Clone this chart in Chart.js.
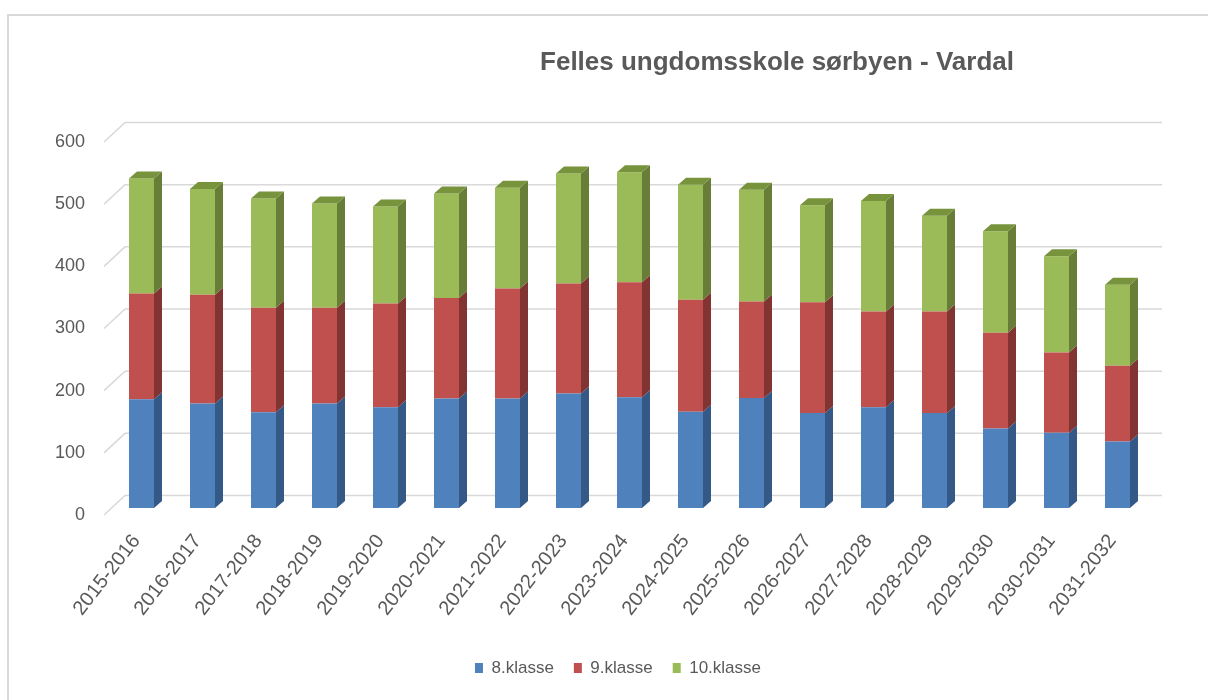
<!DOCTYPE html>
<html>
<head>
<meta charset="utf-8">
<script src="https://cdn.jsdelivr.net/npm/chart.js@4/dist/chart.umd.min.js"></script>
<style>
  html, body { margin: 0; padding: 0; background: #fff; }
</style>
</head>
<body>
<canvas id="chart" width="1208" height="700"></canvas>
<script>
const chartTitle = 'Felles ungdomsskole sørbyen - Vardal';
const categories = ['2015-2016', '2016-2017', '2017-2018', '2018-2019', '2019-2020', '2020-2021',
    '2021-2022', '2022-2023', '2023-2024', '2024-2025', '2025-2026', '2026-2027', '2027-2028',
    '2028-2029', '2029-2030', '2030-2031', '2031-2032'];
const klasse8 = [175, 168, 154, 168, 162, 176, 176, 184, 178, 155, 177, 153, 162, 153, 128, 121, 107];
const klasse9 = [170, 175, 168, 154, 167, 162, 177, 177, 185, 180, 155, 178, 154, 163, 154, 129, 122];
const klasse10 = [185, 170, 176, 168, 156, 168, 162, 177, 177, 185, 180, 156, 178, 154, 163, 155, 130];
const yTicks = [0, 100, 200, 300, 400, 500, 600];

const textColor = '#595959';
const gridColor = '#d9d9d9';
const DX = 8, DY = 7; // bar depth

// gridlines on back wall + side wall, frame, title
const backdrop = {
    id: 'backdrop',
    afterLayout(chart) {
        // legend sits a bit right of the canvas centre in the original
        chart.legend.left += 88;
    },
    beforeDraw(chart) {
        const c = chart.ctx;
        c.save();
        c.fillStyle = '#fff';
        c.fillRect(0, 0, chart.width, chart.height);
        c.strokeStyle = gridColor;
        c.lineWidth = 2;
        c.strokeRect(8, 15, chart.width + 20, chart.height + 20);
        c.restore();
    },
    beforeDatasetsDraw(chart) {
        const c = chart.ctx;
        const y = chart.scales.y;
        c.save();
        c.strokeStyle = gridColor;
        c.lineWidth = 1.5;
        yTicks.forEach(v => {
            const py = y.getPixelForValue(v);
            c.beginPath();
            c.moveTo(104, py + 7);
            c.lineTo(125, py - 12.5);
            c.lineTo(1162, py - 12.5);
            c.stroke();
        });
        c.restore();
    },
    afterDatasetsDraw(chart) {
        const c = chart.ctx;
        c.save();
        chart.data.datasets.forEach((ds, i) => {
            const meta = chart.getDatasetMeta(i);
            const last = i === chart.data.datasets.length - 1;
            meta.data.forEach(bar => {
                const p = bar.getProps(['x', 'y', 'base', 'width'], true);
                const xr = p.x + p.width / 2, xl = p.x - p.width / 2;
                c.fillStyle = ds.sideColor;
                c.beginPath();
                c.moveTo(xr, p.base);
                c.lineTo(xr + DX, p.base - DY);
                c.lineTo(xr + DX, p.y - DY);
                c.lineTo(xr, p.y);
                c.closePath();
                c.fill();
                if (last) {
                    c.fillStyle = ds.topColor;
                    c.beginPath();
                    c.moveTo(xl, p.y);
                    c.lineTo(xl + DX, p.y - DY);
                    c.lineTo(xr + DX, p.y - DY);
                    c.lineTo(xr, p.y);
                    c.closePath();
                    c.fill();
                }
            });
        });
        c.restore();
    },
    afterDraw(chart) {
        const c = chart.ctx;
        c.save();
        c.fillStyle = textColor;
        c.font = 'bold 26px "Liberation Sans", Arial, sans-serif';
        c.textAlign = 'center';
        c.textBaseline = 'middle';
        c.fillText(chartTitle, 777, 63);
        c.restore();
    }
};

new Chart(document.getElementById('chart'), {
    type: 'bar',
    data: {
        labels: categories,
        datasets: [
            { label: '8.klasse', data: klasse8, backgroundColor: '#4f81bd', sideColor: '#355986' },
            { label: '9.klasse', data: klasse9, backgroundColor: '#c0504d', sideColor: '#813432' },
            { label: '10.klasse', data: klasse10, backgroundColor: '#9bbb59', sideColor: '#677d38', topColor: '#77933c' }
        ]
    },
    options: {
        responsive: false,
        devicePixelRatio: 1,
        animation: false,
        layout: { padding: { top: 135, left: 0, right: 60, bottom: 13.5 } },
        datasets: { bar: { categoryPercentage: 1, barPercentage: 0.41, borderWidth: 0 } },
        plugins: {
            title: { display: false },
            tooltip: { enabled: false },
            legend: {
                position: 'bottom',
                labels: {
                    color: textColor,
                    font: { family: '"Liberation Sans", Arial, sans-serif', size: 17 },
                    boxWidth: 8,
                    boxHeight: 10,
                    padding: 20
                }
            }
        },
        scales: {
            x: {
                stacked: true,
                grid: { display: false, drawTicks: false },
                border: { display: false },
                ticks: {
                    color: textColor,
                    font: { family: '"Liberation Sans", Arial, sans-serif', size: 20 },
                    minRotation: 52,
                    maxRotation: 52,
                    padding: 22,
                    labelOffset: -5,
                    autoSkip: false
                },
                afterFit(scale) { scale.height = 131.5; }
            },
            y: {
                stacked: true,
                min: 0,
                max: 600,
                grid: { display: false, drawTicks: false },
                border: { display: false },
                ticks: {
                    stepSize: 100,
                    color: textColor,
                    font: { family: '"Liberation Sans", Arial, sans-serif', size: 18 },
                    padding: 26,
                    labelOffset: 7
                },
                afterFit(scale) { scale.width = 111; }
            }
        }
    },
    plugins: [backdrop]
});
</script>
</body>
</html>
